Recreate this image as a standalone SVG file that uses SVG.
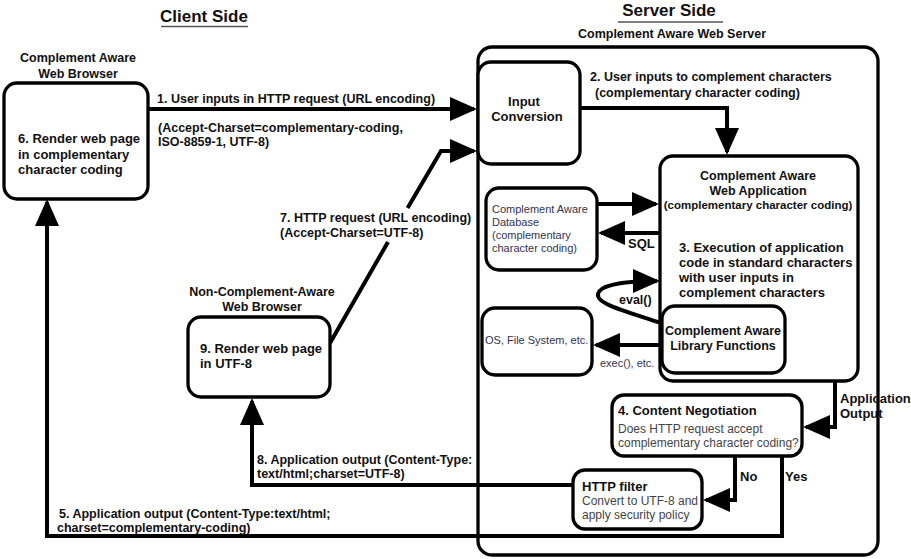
<svg xmlns="http://www.w3.org/2000/svg" width="911" height="559" viewBox="0 0 911 559">
<style>
.box{fill:#fff;stroke:#000;stroke-width:3.3}
.con{fill:none;stroke:#000;stroke-width:4;stroke-linejoin:miter}
.arr{marker-end:url(#ah)}
text{font-family:"Liberation Sans",Arial,sans-serif;fill:#111}
.b{font-weight:bold;font-size:13px}
.bl{font-weight:bold;font-size:12.5px}
.t{font-weight:bold;font-size:17px}
.g{font-size:12px;fill:#444}
.n{font-size:11px;fill:#33334d}
.m{text-anchor:middle}
</style>
<defs>
<marker id="ah" markerUnits="userSpaceOnUse" markerWidth="28" markerHeight="25" refX="24" refY="12" orient="auto">
<path d="M0,0 L27,12 L0,24 z" fill="#000"/>
</marker>
</defs>
<rect width="911" height="559" fill="#fff"/>

<g id="titles">
<text class="t m" x="204" y="22">Client Side</text>
<line x1="161" y1="26.5" x2="248" y2="26.5" stroke="#555" stroke-width="1.5"/>
<text class="t m" x="669" y="16">Server Side</text>
<line x1="618" y1="22" x2="723" y2="22" stroke="#555" stroke-width="1.5"/>
</g>

<g id="server">
<rect class="box" x="478" y="47" width="400" height="508" rx="14"/>
<text class="bl m" x="672" y="38">Complement Aware Web Server</text>
</g>

<g id="connectors">
<path class="con arr" d="M148,109 L474,109"/>
<path class="con arr" d="M580,108 L727,108 L727,152"/>
<path class="con arr" d="M597,204 L656,204"/>
<path class="con arr" d="M660,233 L601,233"/>
<path class="con arr" d="M661,323 C625,311 596,304 598,294 C600,284 628,281 657,281"/>
<path class="con arr" d="M662,345 L596,345"/>
<path class="con arr" d="M835,381 L835,427 L806,427"/>
<path class="con arr" d="M735,456 L735,500 L706,500"/>
<path class="con arr" d="M782,456 L782,536 L47,536 L47,202"/>
<path class="con arr" d="M573,485 L252,485 L252,401"/>
<path class="con" d="M330,343 L388,242"/>
<path class="con arr" d="M407.6,208 L441,151 L474,151"/>
<text class="bl" x="157" y="103">1. User inputs in HTTP request (URL encoding)</text>
<text class="bl" x="158" y="131.5">(Accept-Charset=complementary-coding,</text>
<text class="bl" x="158" y="145.5">ISO-8859-1, UTF-8)</text>
<text class="bl" x="590" y="81">2. User inputs to complement characters</text>
<text class="bl" x="595" y="97">(complementary character coding)</text>
<text class="b" x="628" y="248">SQL</text>
<text class="bl" x="619" y="304">eval()</text>
<text class="n" x="600" y="367">exec(), etc.</text>
<text class="b" x="840" y="403">Application</text>
<text class="b" x="840" y="418">Output</text>
<text class="b" x="740" y="481">No</text>
<text class="b" x="785" y="481">Yes</text>
<text class="bl" x="257" y="464">8. Application output (Content-Type:</text>
<text class="bl" x="257" y="478">text/html;charset=UTF-8)</text>
<text class="bl" x="280" y="221.5">7. HTTP request (URL encoding)</text>
<text class="bl" x="280" y="237">(Accept-Charset=UTF-8)</text>
<text class="bl" x="59" y="518">5. Application output (Content-Type:text/html;</text>
<text class="bl" x="57" y="532">charset=complementary-coding)</text>
</g>

<g id="aware-browser">
<text class="bl m" x="78" y="61.5">Complement Aware</text>
<text class="bl m" x="78" y="77.5">Web Browser</text>
<rect class="box" x="4" y="83" width="144" height="116" rx="13"/>
<text class="b" x="18" y="143">6. Render web page</text>
<text class="b" x="18" y="159">in complementary</text>
<text class="b" x="18" y="174">character coding</text>
</g>

<g id="input-conversion">
<rect class="box" x="478" y="62" width="102" height="102" rx="13"/>
<text class="b m" x="524" y="106">Input</text>
<text class="b m" x="527" y="121">Conversion</text>
</g>

<g id="web-application">
<rect class="box" x="660" y="156" width="198" height="225" rx="13"/>
<text class="bl m" x="758" y="180">Complement Aware</text>
<text class="bl m" x="758" y="195">Web Application</text>
<text class="m" x="758" y="208.5" style="font-weight:bold;font-size:11.5px">(complementary character coding)</text>
<text class="b" x="679" y="252">3. Execution of application</text>
<text class="b" x="679" y="267">code in standard characters</text>
<text class="b" x="679" y="282">with user inputs in</text>
<text class="b" x="679" y="297">complement characters</text>
</g>

<g id="database">
<rect class="box" x="486" y="188" width="111" height="82" rx="13"/>
<text class="n" x="492" y="213">Complement Aware</text>
<text class="n" x="492" y="226">Database</text>
<text class="n" x="492" y="239">(complementary</text>
<text class="n" x="492" y="252">character coding)</text>
</g>

<g id="os">
<rect class="box" x="482" y="308" width="110" height="67" rx="13"/>
<text class="n" x="485" y="344">OS, File System, etc.</text>
</g>

<g id="library-functions">
<rect class="box" x="662" y="306" width="123" height="67" rx="13"/>
<text class="bl m" x="723" y="335">Complement Aware</text>
<text class="bl m" x="723" y="350">Library Functions</text>
</g>

<g id="non-aware-browser">
<text class="bl m" x="262" y="296">Non-Complement-Aware</text>
<text class="bl m" x="262" y="311">Web Browser</text>
<rect class="box" x="188" y="317" width="142" height="80" rx="13"/>
<text class="b" x="200" y="353">9. Render web page</text>
<text class="b" x="200" y="368">in UTF-8</text>
</g>

<g id="content-negotiation">
<rect class="box" x="612" y="395" width="190" height="61" rx="12"/>
<text class="b" x="618" y="415">4. Content Negotiation</text>
<text class="g" x="618" y="433">Does HTTP request accept</text>
<text class="g" x="618" y="447">complementary character coding?</text>
</g>

<g id="http-filter">
<rect class="box" x="573" y="470" width="129" height="59" rx="12"/>
<text class="b" x="582" y="491">HTTP filter</text>
<text class="g" x="582" y="505">Convert to UTF-8 and</text>
<text class="g" x="582" y="519">apply security policy</text>
</g>
</svg>
